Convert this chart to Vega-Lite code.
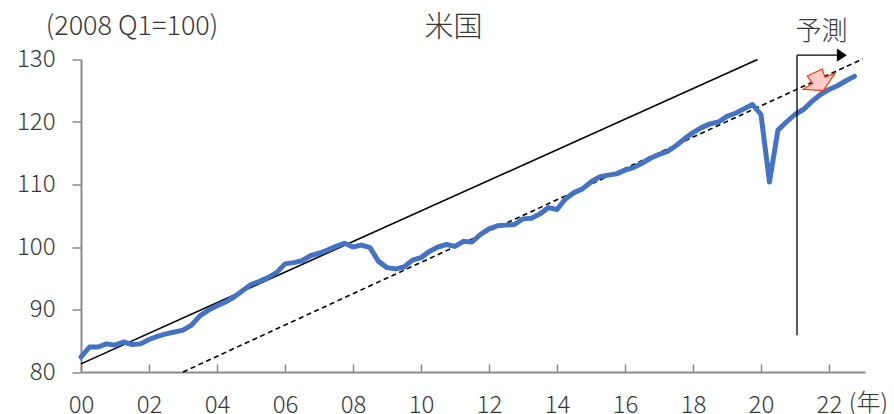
{
  "$schema": "https://vega.github.io/schema/vega-lite/v6.json",
  "width": 784,
  "height": 312.5,
  "autosize": "none",
  "padding": {"left": 81, "top": 59.5, "right": 29, "bottom": 42},
  "background": "white",
  "config": {"view": {"stroke": null}, "font": "Noto Sans CJK JP"},
  "datasets": {
    "gdp": [
      {"t":2000.00,"v":82.4},{"t":2000.25,"v":84.0},{"t":2000.50,"v":84.0},{"t":2000.75,"v":84.5},
      {"t":2001.00,"v":84.3},{"t":2001.25,"v":84.8},{"t":2001.50,"v":84.4},{"t":2001.75,"v":84.5},
      {"t":2002.00,"v":85.2},{"t":2002.25,"v":85.7},{"t":2002.50,"v":86.1},{"t":2002.75,"v":86.4},
      {"t":2003.00,"v":86.7},{"t":2003.25,"v":87.5},{"t":2003.50,"v":89.0},{"t":2003.75,"v":89.9},
      {"t":2004.00,"v":90.6},{"t":2004.25,"v":91.2},{"t":2004.50,"v":92.0},{"t":2004.75,"v":93.0},
      {"t":2005.00,"v":94.0},{"t":2005.25,"v":94.5},{"t":2005.50,"v":95.1},{"t":2005.75,"v":95.9},
      {"t":2006.00,"v":97.3},{"t":2006.25,"v":97.5},{"t":2006.50,"v":97.8},{"t":2006.75,"v":98.6},
      {"t":2007.00,"v":99.0},{"t":2007.25,"v":99.5},{"t":2007.50,"v":100.1},{"t":2007.75,"v":100.6},
      {"t":2008.00,"v":100.0},{"t":2008.25,"v":100.3},{"t":2008.50,"v":99.9},{"t":2008.75,"v":97.7},
      {"t":2009.00,"v":96.7},{"t":2009.25,"v":96.5},{"t":2009.50,"v":96.8},{"t":2009.75,"v":97.9},
      {"t":2010.00,"v":98.3},{"t":2010.25,"v":99.3},{"t":2010.50,"v":100.0},{"t":2010.75,"v":100.4},
      {"t":2011.00,"v":100.1},{"t":2011.25,"v":100.9},{"t":2011.50,"v":100.8},{"t":2011.75,"v":102.0},
      {"t":2012.00,"v":102.9},{"t":2012.25,"v":103.4},{"t":2012.50,"v":103.5},{"t":2012.75,"v":103.6},
      {"t":2013.00,"v":104.5},{"t":2013.25,"v":104.6},{"t":2013.50,"v":105.3},{"t":2013.75,"v":106.3},
      {"t":2014.00,"v":106.0},{"t":2014.25,"v":107.7},{"t":2014.50,"v":108.7},{"t":2014.75,"v":109.3},
      {"t":2015.00,"v":110.4},{"t":2015.25,"v":111.2},{"t":2015.50,"v":111.5},{"t":2015.75,"v":111.7},
      {"t":2016.00,"v":112.3},{"t":2016.25,"v":112.7},{"t":2016.50,"v":113.4},{"t":2016.75,"v":114.2},
      {"t":2017.00,"v":114.8},{"t":2017.25,"v":115.3},{"t":2017.50,"v":116.2},{"t":2017.75,"v":117.3},
      {"t":2018.00,"v":118.3},{"t":2018.25,"v":119.1},{"t":2018.50,"v":119.7},{"t":2018.75,"v":120.0},
      {"t":2019.00,"v":120.9},{"t":2019.25,"v":121.4},{"t":2019.50,"v":122.1},{"t":2019.75,"v":122.8},
      {"t":2020.00,"v":121.2},{"t":2020.25,"v":110.4},{"t":2020.50,"v":118.7},{"t":2020.75,"v":120.0},
      {"t":2021.00,"v":121.2},{"t":2021.25,"v":122.0},{"t":2021.50,"v":123.3},{"t":2021.75,"v":124.4},
      {"t":2022.00,"v":125.2},{"t":2022.25,"v":125.8},{"t":2022.50,"v":126.6},{"t":2022.75,"v":127.3}
    ],
    "trendBefore": [{"t":2000.0,"v":81.3},{"t":2019.9,"v":130.0}],
    "trendAfter": [{"t":2003.0,"v":80.0},{"t":2023.0,"v":130.1}],
    "forecastStart": [{"t":2021.06,"v":130.7},{"t":2021.06,"v":85.9}],
    "forecastSpan": [{"t":2021.06,"v":130.7},{"t":2022.26,"v":130.7}],
    "forecastHead": [{"t":2022.38,"v":130.7}],
    "gapMarker": [{"t":2021.735,"v":126.72}],
    "notes": [
      {"t":2010.96,"v":135.0,"label":"米国","size":29},
      {"t":2001.5,"v":135.2,"label":"(2008 Q1=100)","size":27},
      {"t":2021.78,"v":134.4,"label":"予測","size":26},
      {"t":2023.16,"v":74.9,"label":"(年)","size":24}
    ]
  },
  "encoding": {
    "x": {
      "field": "t",
      "type": "quantitative",
      "scale": {"domain": [2000, 2023.06], "nice": false, "zero": false},
      "axis": {
        "title": null,
        "grid": false,
        "values": [2000,2002,2004,2006,2008,2010,2012,2014,2016,2018,2020,2022],
        "labelExpr": "substring(toString(datum.value), 2)",
        "tickSize": -8,
        "tickColor": "#898989",
        "tickWidth": 1.5,
        "domainColor": "#898989",
        "domainWidth": 2,
        "labelColor": "#383838",
        "labelFontSize": 24,
        "labelFontWeight": 300,
        "labelPadding": 29,
        "labelFlush": false
      }
    },
    "y": {
      "field": "v",
      "type": "quantitative",
      "scale": {"domain": [80, 130], "nice": false, "zero": false},
      "axis": {
        "title": null,
        "grid": false,
        "values": [80,90,100,110,120,130],
        "tickSize": 9,
        "tickColor": "#898989",
        "tickWidth": 1.5,
        "domainColor": "#898989",
        "domainWidth": 2,
        "labelColor": "#383838",
        "labelFontSize": 24,
        "labelFontWeight": 300,
        "labelPadding": 17
      }
    }
  },
  "layer": [
    {
      "data": {"name": "trendBefore"},
      "mark": {"type": "line", "color": "#000000", "strokeWidth": 1.6, "clip": false}
    },
    {
      "data": {"name": "trendAfter"},
      "mark": {"type": "line", "color": "#000000", "strokeWidth": 1.6, "strokeDash": [5, 3.5], "clip": false}
    },
    {
      "data": {"name": "gdp"},
      "mark": {"type": "line", "color": "#4472C4", "strokeWidth": 5, "strokeJoin": "round", "strokeCap": "round", "clip": false}
    },
    {
      "data": {"name": "forecastStart"},
      "mark": {"type": "line", "color": "#000000", "strokeWidth": 1.3, "clip": false}
    },
    {
      "data": {"name": "forecastSpan"},
      "mark": {"type": "line", "color": "#000000", "strokeWidth": 1.3, "clip": false}
    },
    {
      "data": {"name": "forecastHead"},
      "mark": {"type": "point", "shape": "M-0.77,-1L0.77,0L-0.77,1Z", "size": 170, "filled": true, "fill": "#000000", "stroke": null, "opacity": 1, "clip": false}
    },
    {
      "data": {"name": "gapMarker"},
      "mark": {
        "type": "point",
        "shape": "M-0.635,-0.2L0.115,-0.55L0.25,-0.135L0.75,-0.335L0.165,0.535L-0.835,0.465L-0.365,0.165Z",
        "size": 1600,
        "filled": true,
        "fill": "#FFCCCC",
        "stroke": "#FF3300",
        "strokeWidth": 1.2,
        "opacity": 1,
        "clip": false
      }
    },
    {
      "data": {"name": "notes"},
      "mark": {"type": "text", "color": "#383838", "baseline": "middle", "fontWeight": 300, "clip": false},
      "encoding": {
        "text": {"field": "label", "type": "nominal"},
        "size": {"field": "size", "type": "quantitative", "scale": null, "legend": null}
      }
    }
  ]
}
